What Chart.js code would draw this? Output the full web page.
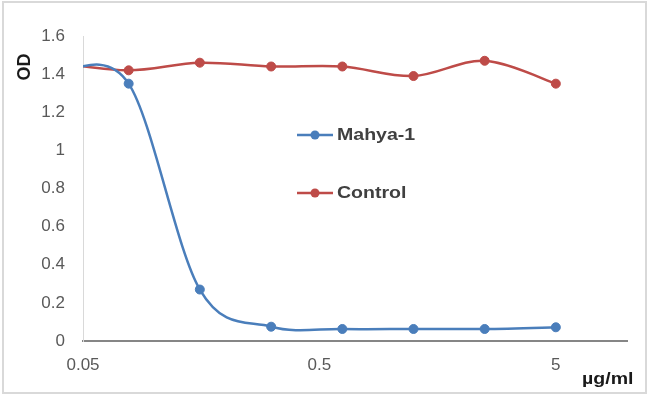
<!DOCTYPE html>
<html>
<head>
<meta charset="utf-8">
<script src="https://cdn.jsdelivr.net/npm/chart.js@4.4.1/dist/chart.umd.min.js"></script>
<style>
  html, body { margin: 0; padding: 0; background: #ffffff; }
  #wrap { width: 650px; height: 398px; }
</style>
</head>
<body>
<div id="wrap"><canvas id="c" width="650" height="398"></canvas></div>
<script>
// ---- data ----
const concentrations = [0.039, 0.078, 0.156, 0.3125, 0.625, 1.25, 2.5, 5];
const mahya1 = [1.41, 1.35, 0.27, 0.075, 0.063, 0.063, 0.063, 0.072];
const control = [1.46, 1.42, 1.46, 1.44, 1.44, 1.39, 1.47, 1.35];
const seriesNames = ['Mahya-1', 'Control'];
const xTickValues = [0.05, 0.5, 5];
const yAxisTitle = 'OD';
const xAxisTitle = 'µg/ml';

const BLUE = '#4a7ebb';
const RED = '#be4b48';
const TICK_COLOR = '#595959';
const FONT = "'Liberation Sans', Arial, sans-serif";

function toPoints(xs, ys) { return xs.map((x, i) => ({ x: x, y: ys[i] })); }

// Spreadsheet-style smoothing: uniform Catmull-Rom control points (1/6 of neighbour chord)
const smoothing = {
  id: 'smoothing',
  beforeDatasetsDraw(chart) {
    chart.data.datasets.forEach((ds, di) => {
      const meta = chart.getDatasetMeta(di);
      const pts = meta.data;
      for (let i = 0; i < pts.length; i++) {
        const p = pts[i];
        const prev = pts[i - 1] || p;
        const next = pts[i + 1] || p;
        const dx = (next.x - prev.x) / 6;
        const dy = (next.y - prev.y) / 6;
        p.cp1x = p.x - dx; p.cp1y = p.y - dy;
        p.cp2x = p.x + dx; p.cp2y = p.y + dy;
      }
      if (meta.dataset) meta.dataset._pointsUpdated = true;
    });
  }
};

const decor = {
  id: 'decor',
  beforeDraw(chart) {
    const ctx = chart.ctx;
    ctx.save();
    ctx.fillStyle = '#ffffff';
    ctx.fillRect(0, 0, chart.width, chart.height);
    ctx.strokeStyle = '#d9d9d9';
    ctx.lineWidth = 2;
    ctx.strokeRect(3, 2, 643, 391);
    ctx.restore();
  },
  afterDraw(chart) {
    const ctx = chart.ctx;
    ctx.save();
    // legend
    const rows = [135, 193];
    chart.data.datasets.forEach((ds, i) => {
      const y = rows[i];
      ctx.strokeStyle = ds.borderColor;
      ctx.lineWidth = 2.5;
      ctx.beginPath();
      ctx.moveTo(297, y);
      ctx.lineTo(333, y);
      ctx.stroke();
      ctx.fillStyle = ds.borderColor;
      ctx.beginPath();
      ctx.arc(315, y, 4.5, 0, Math.PI * 2);
      ctx.fill();
      ctx.save();
      ctx.translate(337, y);
      ctx.scale(1.15, 1);
      ctx.fillStyle = '#404040';
      ctx.font = "bold 17px " + FONT;
      ctx.textBaseline = 'middle';
      ctx.textAlign = 'left';
      ctx.fillText(ds.label, 0, 0);
      ctx.restore();
    });
    // y axis title (rotated)
    ctx.save();
    ctx.translate(25, 67);
    ctx.rotate(-Math.PI / 2);
    ctx.fillStyle = '#1a1a1a';
    ctx.font = "bold 18px " + FONT;
    ctx.textAlign = 'center';
    ctx.textBaseline = 'middle';
    ctx.fillText(yAxisTitle, 0, 0);
    ctx.restore();
    // x axis title
    ctx.save();
    ctx.translate(582, 379);
    ctx.scale(1.15, 1);
    ctx.fillStyle = '#1a1a1a';
    ctx.font = "bold 17px " + FONT;
    ctx.textAlign = 'left';
    ctx.textBaseline = 'middle';
    ctx.fillText(xAxisTitle, 0, 0);
    ctx.restore();
    ctx.restore();
  }
};

new Chart(document.getElementById('c'), {
  type: 'line',
  data: {
    datasets: [
      {
        label: seriesNames[0],
        data: toPoints(concentrations, mahya1),
        borderColor: BLUE,
        backgroundColor: BLUE,
        pointBackgroundColor: BLUE,
        pointBorderColor: BLUE,
        borderWidth: 2.5,
        pointRadius: 4.5,
        pointBorderWidth: 1,
        tension: 0.4,
        fill: false
      },
      {
        label: seriesNames[1],
        data: toPoints(concentrations, control),
        borderColor: RED,
        backgroundColor: RED,
        pointBackgroundColor: RED,
        pointBorderColor: RED,
        borderWidth: 2.5,
        pointRadius: 4.5,
        pointBorderWidth: 1,
        tension: 0.4,
        fill: false
      }
    ]
  },
  options: {
    responsive: false,
    animation: false,
    devicePixelRatio: 1,
    layout: { padding: { top: 36, right: 23, left: 0, bottom: 0 } },
    plugins: {
      legend: { display: false },
      tooltip: { enabled: false },
      title: { display: false }
    },
    scales: {
      x: {
        type: 'logarithmic',
        min: 0.05,
        max: 10,
        afterBuildTicks: (s) => { s.ticks = xTickValues.map(v => ({ value: v })); },
        afterFit: (s) => { s.height = 57; },
        grid: { display: false, drawTicks: false },
        border: { display: true, color: '#868686', width: 2 },
        ticks: {
          autoSkip: false,
          maxRotation: 0,
          padding: 14,
          color: TICK_COLOR,
          font: { family: FONT, size: 17 },
          callback: (v) => String(v)
        }
      },
      y: {
        min: 0,
        max: 1.6,
        afterFit: (s) => { s.width = 83; },
        grid: { display: false, drawTicks: false },
        border: { display: true, color: '#d9d9d9', width: 1 },
        ticks: {
          stepSize: 0.2,
          padding: 18,
          color: TICK_COLOR,
          font: { family: FONT, size: 17 },
          callback: (v) => String(Math.round(v * 10) / 10)
        }
      }
    }
  },
  plugins: [smoothing, decor]
});
</script>
</body>
</html>
